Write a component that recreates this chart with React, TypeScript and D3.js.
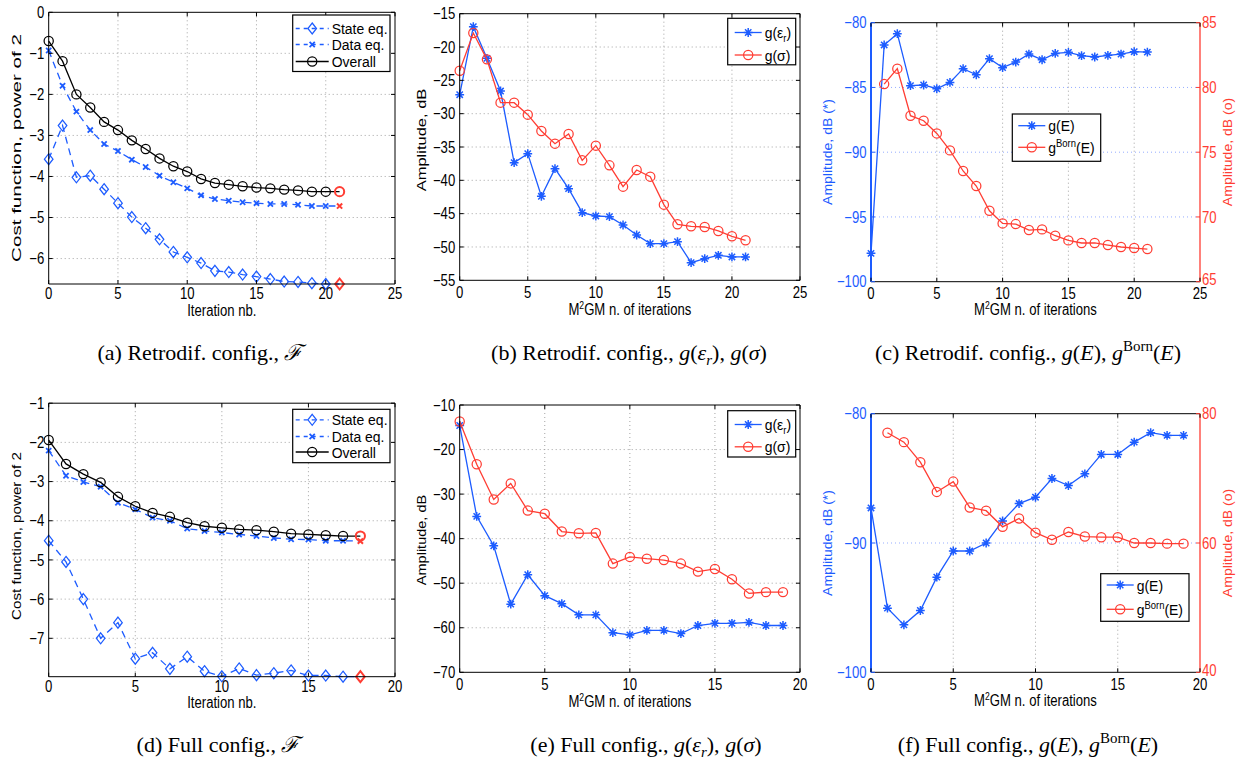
import React from "react";
import * as d3 from "d3";

const BLUE = "#1d5cff";
const RED = "#ff3d33";
const GRID = "#9a9a9a";
const FONT = "'Liberation Sans', Arial, Helvetica, sans-serif";
const SERIF = "'Liberation Serif', 'Times New Roman', serif";

// ---------- data ----------
// (a) Retrodif. config., cost function
const stateA = [-3.58, -2.76, -4.02, -3.98, -4.31, -4.65, -4.99, -5.26, -5.53, -5.84, -5.97, -6.11, -6.3, -6.33, -6.39, -6.44, -6.5, -6.56, -6.57, -6.6, -6.62, -6.62];
const dataA = [-0.93, -1.79, -2.42, -2.87, -3.21, -3.38, -3.59, -3.77, -3.98, -4.14, -4.29, -4.46, -4.55, -4.59, -4.63, -4.65, -4.67, -4.67, -4.69, -4.72, -4.72, -4.72];
const overallA = [-0.7, -1.19, -2.0, -2.32, -2.67, -2.87, -3.12, -3.33, -3.56, -3.75, -3.88, -4.06, -4.16, -4.2, -4.24, -4.27, -4.29, -4.32, -4.34, -4.37, -4.37, -4.37];
// (b) Retrodif. config., g(eps_r), g(sigma)
const epsB = [-27.15, -16.95, -21.7, -26.6, -37.35, -36.0, -42.4, -38.25, -41.25, -44.85, -45.35, -45.45, -46.7, -48.2, -49.5, -49.5, -49.2, -52.35, -51.75, -51.25, -51.5, -51.5];
const sigB = [-23.55, -17.9, -21.85, -28.35, -28.35, -30.15, -32.6, -34.5, -33.05, -37.0, -34.8, -37.75, -40.95, -38.45, -39.45, -43.65, -46.6, -46.9, -47.0, -47.6, -48.4, -49.0];
// (c) Retrodif. config., g(E), gBorn(E)
const gEC = [-97.81, -81.72, -80.85, -84.86, -84.81, -85.1, -84.61, -83.55, -84.02, -82.78, -83.47, -83.04, -82.42, -82.86, -82.37, -82.29, -82.55, -82.65, -82.52, -82.42, -82.24, -82.27];
const bornC = [null, 80.26, 81.45, 77.82, 77.43, 76.45, 75.14, 73.55, 72.39, 70.48, 69.5, 69.45, 68.99, 69.04, 68.55, 68.19, 67.99, 67.99, 67.83, 67.68, 67.6, 67.52];
// (d) Full config., cost function
const stateD = [-4.51, -5.05, -6.0, -7.0, -6.6, -7.52, -7.37, -7.78, -7.47, -7.84, -7.97, -7.77, -7.94, -7.89, -7.82, -7.95, -7.95, -7.98, -7.98];
const dataD = [-2.21, -2.85, -3.01, -3.13, -3.54, -3.71, -3.92, -4.0, -4.2, -4.26, -4.3, -4.35, -4.39, -4.44, -4.47, -4.48, -4.51, -4.51, -4.52];
const overallD = [-1.94, -2.55, -2.81, -3.02, -3.39, -3.63, -3.8, -3.9, -4.05, -4.14, -4.18, -4.22, -4.24, -4.28, -4.33, -4.35, -4.37, -4.39, -4.39];
// (e) Full config., g(eps_r), g(sigma)
const epsE = [-14.6, -35.0, -41.6, -54.7, -48.1, -52.8, -54.6, -57.1, -57.1, -61.1, -61.6, -60.6, -60.6, -61.3, -59.5, -59.0, -59.0, -58.8, -59.5, -59.5];
const sigE = [-13.7, -23.3, -31.2, -27.6, -33.7, -34.4, -38.4, -38.8, -38.7, -45.6, -44.1, -44.5, -44.8, -45.6, -47.4, -46.8, -49.1, -52.3, -52.0, -52.0];
// (f) Full config., g(E), gBorn(E)
const gEF = [-87.29, -95.04, -96.33, -95.22, -92.64, -90.62, -90.62, -90.0, -88.29, -86.95, -86.46, -85.01, -85.56, -84.65, -83.15, -83.15, -82.2, -81.47, -81.68, -81.68];
const bornF = [null, 77.05, 75.6, 72.5, 67.9, 69.5, 65.5, 65.0, 62.5, 63.8, 61.6, 60.5, 61.7, 61.0, 60.9, 60.9, 60.0, 60.0, 59.9, 59.9];

// tick labels
const xTicks25 = [0, 5, 10, 15, 20, 25];
const xTicks20 = [0, 5, 10, 15, 20];
const yTicksA = [-6, -5, -4, -3, -2, -1, 0];
const yTicksB = [-55, -50, -45, -40, -35, -30, -25, -20, -15];
const yTicksC = [-100, -95, -90, -85, -80];
const y2TicksC = [65, 70, 75, 80, 85];
const yTicksD = [-7, -6, -5, -4, -3, -2, -1];
const yTicksE = [-70, -60, -50, -40, -30, -20, -10];
const yTicksF = [-100, -90, -80];
const y2TicksF = [40, 60, 80];

type Marker = "star" | "circle" | "diamond" | "x";

function MarkerShape({ m, x, y, color, w }: { m: Marker; x: number; y: number; color: string; w?: number }) {
  if (m === "star") {
    const r = 4.4, d = r * 0.72;
    return <path d={`M${x - r},${y}H${x + r}M${x},${y - r}V${y + r}M${x - d},${y - d}L${x + d},${y + d}M${x - d},${y + d}L${x + d},${y - d}`} stroke={color} strokeWidth={w ?? 1.5} fill="none" />;
  }
  if (m === "circle") return <circle cx={x} cy={y} r={4.6} stroke={color} strokeWidth={w ?? 1.25} fill="none" />;
  if (m === "diamond") return <path d={`M${x},${y - 5.5}L${x + 4.3},${y}L${x},${y + 5.5}L${x - 4.3},${y}Z`} stroke={color} strokeWidth={w ?? 1.25} fill="none" />;
  const r = 2.6;
  return <path d={`M${x - r},${y - r}L${x + r},${y + r}M${x - r},${y + r}L${x + r},${y - r}`} stroke={color} strokeWidth={w ?? 1.8} fill="none" />;
}

function T({ x, y, anchor = "start", size = 16, sx = 0.82, len = 1, fill = "#000", rot = false, family = FONT, dy, children }: any) {
  const transform = rot ? `translate(${x},${y}) rotate(-90) scale(${len},${sx})` : `translate(${x},${y}) scale(${sx},1)`;
  return (
    <text transform={transform} textAnchor={anchor} fontSize={size} fill={fill} fontFamily={family} dy={dy}>
      {children}
    </text>
  );
}

interface Series { values: (number | null)[]; color: string; marker: Marker; dash?: string; right?: boolean; lastRed?: boolean; }
interface LegendEntry { label: any; color: string; marker: Marker; dash?: string; }
interface PanelCfg {
  left: number; right: number; top: number; bottom: number;
  xDomain: number[]; xTicks: number[];
  yDomain: number[]; yTicks: number[];
  y2Domain?: number[]; y2Ticks?: number[];
  xLabel: any; yLabel: string; y2Label?: string;
  yLabelX: number; y2LabelX?: number; yLabelY: number; yLabelLen: number;
  tickDy: number; labelDy: number;
  series: Series[];
  legend: { x0: number; x1: number; y0: number; y1: number; ys: number[]; lineA: number; lineB: number; textX: number; entries: LegendEntry[] };
}

const m2gm = (
  <>
    M<tspan dy={-6} fontSize={10.5}>2</tspan><tspan dy={6}>GM n. of iterations</tspan>
  </>
);
const gEps = (
  <>
    g(ε<tspan dy={4} fontSize={10.5}>r</tspan><tspan dy={-4}>)</tspan>
  </>
);
const gBorn = (
  <>
    g<tspan dy={-6} fontSize={10.5}>Born</tspan><tspan dy={6}>(E)</tspan>
  </>
);

const DASH = "7,5";

const costLegend = (x0: number, y0: number, y1: number, ys: number[]) => ({
  x0, x1: x0 + 97.3, y0, y1, ys, lineA: 3, lineB: 36, textX: 39,
  entries: [
    { label: "State eq.", color: BLUE, marker: "diamond" as Marker, dash: "4,4" },
    { label: "Data eq.", color: BLUE, marker: "x" as Marker, dash: "4,4" },
    { label: "Overall", color: "#000", marker: "circle" as Marker },
  ],
});

const panels: PanelCfg[] = [
  {
    left: 48.7, right: 395, top: 12.3, bottom: 284,
    xDomain: [0, 25], xTicks: xTicks25, yDomain: [-6.62, 0], yTicks: yTicksA,
    xLabel: "Iteration nb.", yLabel: "Cost function, power of 2", yLabelX: 21, yLabelY: 148, yLabelLen: 1.25,
    tickDy: 15, labelDy: 31.5,
    series: [
      { values: stateA, color: BLUE, marker: "diamond", dash: DASH, lastRed: true },
      { values: dataA, color: BLUE, marker: "x", dash: DASH, lastRed: true },
      { values: overallA, color: "#000", marker: "circle", lastRed: true },
    ],
    legend: costLegend(292.7, 15, 71.5, [28.5, 44.5, 61.5]),
  },
  {
    left: 459.7, right: 800, top: 13.7, bottom: 280.3,
    xDomain: [0, 25], xTicks: xTicks25, yDomain: [-55, -15], yTicks: yTicksB,
    xLabel: m2gm, yLabel: "Amplitude, dB", yLabelX: 426, yLabelY: 140, yLabelLen: 1.0,
    tickDy: 17.5, labelDy: 35,
    series: [
      { values: epsB, color: BLUE, marker: "star" },
      { values: sigB, color: RED, marker: "circle" },
    ],
    legend: {
      x0: 727.7, x1: 795.7, y0: 18.3, y1: 64.8, ys: [32.5, 55], lineA: 7, lineB: 34, textX: 37,
      entries: [
        { label: gEps, color: BLUE, marker: "star" },
        { label: "g(σ)", color: RED, marker: "circle" },
      ],
    },
  },
  {
    left: 871, right: 1200, top: 22.7, bottom: 281.7,
    xDomain: [0, 25], xTicks: xTicks25, yDomain: [-100, -80], yTicks: yTicksC,
    y2Domain: [65, 85], y2Ticks: y2TicksC,
    xLabel: m2gm, yLabel: "Amplitude, dB (*)", y2Label: "Amplitude, dB (o)", yLabelX: 831.5, y2LabelX: 1232, yLabelY: 152, yLabelLen: 0.85,
    tickDy: 17.5, labelDy: 33.5,
    series: [
      { values: gEC, color: BLUE, marker: "star" },
      { values: bornC, color: RED, marker: "circle", right: true },
    ],
    legend: {
      x0: 1012.3, x1: 1100.7, y0: 114, y1: 161.3, ys: [125.7, 147.3], lineA: 6, lineB: 33, textX: 36,
      entries: [
        { label: "g(E)", color: BLUE, marker: "star" },
        { label: gBorn, color: RED, marker: "circle" },
      ],
    },
  },
  {
    left: 48.7, right: 395, top: 403.2, bottom: 676.7,
    xDomain: [0, 20], xTicks: xTicks20, yDomain: [-7.98, -1], yTicks: yTicksD,
    xLabel: "Iteration nb.", yLabel: "Cost function, power of 2", yLabelX: 21, yLabelY: 536, yLabelLen: 0.92,
    tickDy: 15, labelDy: 31.5,
    series: [
      { values: stateD, color: BLUE, marker: "diamond", dash: DASH, lastRed: true },
      { values: dataD, color: BLUE, marker: "x", dash: DASH, lastRed: true },
      { values: overallD, color: "#000", marker: "circle", lastRed: true },
    ],
    legend: costLegend(292.7, 409.3, 462.7, [419.8, 436.5, 452]),
  },
  {
    left: 459.7, right: 800, top: 405, bottom: 672.3,
    xDomain: [0, 20], xTicks: xTicks20, yDomain: [-70, -10], yTicks: yTicksE,
    xLabel: m2gm, yLabel: "Amplitude, dB", yLabelX: 426, yLabelY: 540, yLabelLen: 0.88,
    tickDy: 17.5, labelDy: 35,
    series: [
      { values: epsE, color: BLUE, marker: "star" },
      { values: sigE, color: RED, marker: "circle" },
    ],
    legend: {
      x0: 727.7, x1: 795.7, y0: 410.7, y1: 457, ys: [424.5, 446.8], lineA: 7, lineB: 34, textX: 37,
      entries: [
        { label: gEps, color: BLUE, marker: "star" },
        { label: "g(σ)", color: RED, marker: "circle" },
      ],
    },
  },
  {
    left: 871, right: 1200, top: 413.7, bottom: 672.3,
    xDomain: [0, 20], xTicks: xTicks20, yDomain: [-100, -80], yTicks: yTicksF,
    y2Domain: [40, 80], y2Ticks: y2TicksF,
    xLabel: m2gm, yLabel: "Amplitude, dB (*)", y2Label: "Amplitude, dB (o)", yLabelX: 831.5, y2LabelX: 1232, yLabelY: 543, yLabelLen: 0.85,
    tickDy: 17.5, labelDy: 33.5,
    series: [
      { values: gEF, color: BLUE, marker: "star" },
      { values: bornF, color: RED, marker: "circle", right: true },
    ],
    legend: {
      x0: 1100.7, x1: 1189, y0: 573.7, y1: 621.3, ys: [585, 609.3], lineA: 6, lineB: 33, textX: 36,
      entries: [
        { label: "g(E)", color: BLUE, marker: "star" },
        { label: gBorn, color: RED, marker: "circle" },
      ],
    },
  },
];

const fmt = (v: number) => (v < 0 ? "\u2212" + Math.abs(v) : String(v));

function Panel({ p }: { p: PanelCfg }) {
  const x = d3.scaleLinear().domain(p.xDomain).range([p.left, p.right]);
  const y = d3.scaleLinear().domain(p.yDomain).range([p.bottom, p.top]);
  const y2 = p.y2Domain ? d3.scaleLinear().domain(p.y2Domain).range([p.bottom, p.top]) : null;
  const dual = !!y2;
  const leftColor = dual ? BLUE : "#000";
  const rightColor = dual ? RED : "#000";
  const eps = 1e-6;
  const innerX = p.xTicks.filter((t) => t > p.xDomain[0] + eps && t < p.xDomain[1] - eps);
  const innerY = p.yTicks.filter((t) => t > p.yDomain[0] + eps && t < p.yDomain[1] - eps);
  const tl = 4;
  const L = p.legend;
  return (
    <g>
      {innerX.map((t) => (
        <line key={"gx" + t} x1={x(t)} x2={x(t)} y1={p.top} y2={p.bottom} stroke={GRID} strokeDasharray="1,3" strokeWidth={0.9} />
      ))}
      {innerY.map((t) => (
        <line key={"gy" + t} x1={p.left} x2={p.right} y1={y(t)} y2={y(t)} stroke={dual ? "#8aa4ff" : GRID} strokeDasharray="1,3" strokeWidth={0.9} />
      ))}
      {p.series.map((s, si) => {
        const sc = s.right && y2 ? y2 : y;
        const pts = s.values.map((v, i) => ({ i, v }));
        const line = d3
          .line<{ i: number; v: number | null }>()
          .defined((d) => d.v != null)
          .x((d) => x(d.i))
          .y((d) => sc(d.v as number));
        const n = s.values.length;
        return (
          <g key={"s" + si}>
            <path d={line(pts) || ""} fill="none" stroke={s.color} strokeWidth={1.3} strokeDasharray={s.dash} />
            {pts.filter((d) => d.v != null).map((d) => {
              const isLast = s.lastRed && d.i === n - 1;
              return <MarkerShape key={d.i} m={s.marker} x={x(d.i)} y={sc(d.v as number)} color={isLast ? RED : s.color} w={isLast ? 2 : undefined} />;
            })}
          </g>
        );
      })}
      {/* box */}
      <line x1={p.left} x2={p.right} y1={p.top} y2={p.top} stroke="#000" strokeWidth={1} />
      <line x1={p.left} x2={p.right} y1={p.bottom} y2={p.bottom} stroke="#000" strokeWidth={1} />
      <line x1={p.left} x2={p.left} y1={p.top} y2={p.bottom} stroke={leftColor} strokeWidth={dual ? 2 : 1} />
      <line x1={p.right} x2={p.right} y1={p.top} y2={p.bottom} stroke={rightColor} strokeWidth={dual ? 1.3 : 1} />
      {/* x ticks */}
      {p.xTicks.map((t) => (
        <g key={"xt" + t}>
          <line x1={x(t)} x2={x(t)} y1={p.bottom} y2={p.bottom - tl} stroke="#000" />
          <line x1={x(t)} x2={x(t)} y1={p.top} y2={p.top + tl} stroke="#000" />
          <T x={x(t)} y={p.bottom + p.tickDy} anchor="middle">{fmt(t)}</T>
        </g>
      ))}
      {/* y ticks */}
      {p.yTicks.map((t) => (
        <g key={"yt" + t}>
          <line x1={p.left} x2={p.left + tl} y1={y(t)} y2={y(t)} stroke={leftColor} />
          {!dual && <line x1={p.right} x2={p.right - tl} y1={y(t)} y2={y(t)} stroke="#000" />}
          <T x={p.left - 4.5} y={y(t)} dy="0.35em" anchor="end" fill={leftColor}>{fmt(t)}</T>
        </g>
      ))}
      {y2 && p.y2Ticks && p.y2Ticks.map((t, i) => (
        <g key={"y2t" + t}>
          <line x1={p.right} x2={p.right - tl} y1={y2(t)} y2={y2(t)} stroke={RED} />
          <T x={p.right + 2} y={y2(t)} dy={i === 0 ? "0.2em" : "0.35em"} anchor="start" fill={RED}>{fmt(t)}</T>
        </g>
      ))}
      {/* axis labels */}
      <T x={(p.left + p.right) / 2} y={p.bottom + p.labelDy} anchor="middle" size={16} sx={0.82}>{p.xLabel}</T>
      <T x={p.yLabelX} y={p.yLabelY} anchor="middle" size={16.5} sx={0.8} len={p.yLabelLen} rot fill={leftColor}>{p.yLabel}</T>
      {p.y2Label && (
        <T x={p.y2LabelX} y={p.yLabelY} anchor="middle" size={16.5} sx={0.8} len={p.yLabelLen} rot fill={RED}>{p.y2Label}</T>
      )}
      {/* legend */}
      <rect x={L.x0} y={L.y0} width={L.x1 - L.x0} height={L.y1 - L.y0} fill="#fff" stroke="#000" strokeWidth={1.2} />
      {L.entries.map((e, i) => (
        <g key={"lg" + i}>
          <line x1={L.x0 + L.lineA} x2={L.x0 + L.lineB} y1={L.ys[i]} y2={L.ys[i]} stroke={e.color} strokeWidth={1.3} strokeDasharray={e.dash} />
          <MarkerShape m={e.marker} x={L.x0 + (L.lineA + L.lineB) / 2} y={L.ys[i]} color={e.color} />
          <T x={L.x0 + L.textX} y={L.ys[i]} dy="0.36em" size={15.5} sx={0.9}>{e.label}</T>
        </g>
      ))}
    </g>
  );
}

const captions = [
  { x: 200, y: 360, content: <>(a) Retrodif. config., <tspan fontStyle="italic">ℱ</tspan></> },
  { x: 629, y: 360, content: <>(b) Retrodif. config., <tspan fontStyle="italic">g</tspan>(<tspan fontStyle="italic">ε</tspan><tspan fontStyle="italic" fontSize={15} dy={5}>r</tspan><tspan dy={-5}>),</tspan> <tspan fontStyle="italic">g</tspan>(<tspan fontStyle="italic">σ</tspan>)</> },
  { x: 1028, y: 360, content: <>(c) Retrodif. config., <tspan fontStyle="italic">g</tspan>(<tspan fontStyle="italic">E</tspan>), <tspan fontStyle="italic">g</tspan><tspan fontSize={15} dy={-9}>Born</tspan><tspan dy={9}>(</tspan><tspan fontStyle="italic">E</tspan>)</> },
  { x: 218, y: 752, content: <>(d) Full config., <tspan fontStyle="italic">ℱ</tspan></> },
  { x: 646, y: 752, content: <>(e) Full config., <tspan fontStyle="italic">g</tspan>(<tspan fontStyle="italic">ε</tspan><tspan fontStyle="italic" fontSize={15} dy={5}>r</tspan><tspan dy={-5}>),</tspan> <tspan fontStyle="italic">g</tspan>(<tspan fontStyle="italic">σ</tspan>)</> },
  { x: 1028, y: 752, content: <>(f) Full config., <tspan fontStyle="italic">g</tspan>(<tspan fontStyle="italic">E</tspan>), <tspan fontStyle="italic">g</tspan><tspan fontSize={15} dy={-9}>Born</tspan><tspan dy={9}>(</tspan><tspan fontStyle="italic">E</tspan>)</> },
];

export default function App() {
  return (
    <svg width={1245} height={763} style={{ position: "absolute", left: 0, top: 0, background: "#fff" }}>
      <rect x={0} y={0} width={1245} height={763} fill="#fff" />
      {panels.map((p, i) => (
        <Panel key={i} p={p} />
      ))}
      {captions.map((c, i) => (
        <text key={"c" + i} x={c.x} y={c.y} textAnchor="middle" fontFamily={SERIF} fontSize={22} fill="#000">
          {c.content}
        </text>
      ))}
    </svg>
  );
}
